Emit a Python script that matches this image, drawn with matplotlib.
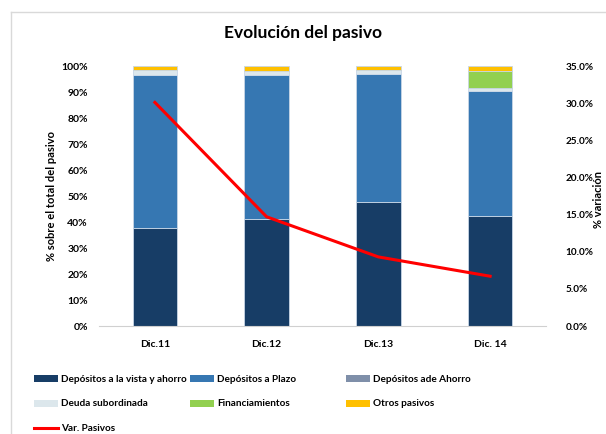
import matplotlib
matplotlib.use("Agg")
import matplotlib.pyplot as plt
from matplotlib.ticker import PercentFormatter, FuncFormatter
from matplotlib.lines import Line2D
from matplotlib.patches import Patch

plt.rcParams['font.family'] = ['Lato', 'DejaVu Sans']
plt.rcParams['font.weight'] = 'bold'

# datos (% sobre total del pasivo)
periodos = ['Dic.11', 'Dic.12', 'Dic.13', 'Dic. 14']
vista_ahorro = [37.8, 41.3, 47.8, 42.4]
plazo = [58.7, 55.3, 49.3, 47.8]
dep_ahorro = [0.0, 0.0, 0.0, 0.0]
deuda_sub = [2.0, 1.5, 1.5, 1.5]
financiamientos = [0.0, 0.0, 0.0, 6.4]
otros = [1.5, 1.9, 1.4, 1.9]
var_pasivos = [30.1, 14.7, 9.3, 6.7]

series = [
    ('Depósitos a la vista y ahorro', vista_ahorro, '#173d66'),
    ('Depósitos a Plazo', plazo, '#3677b2'),
    ('Depósitos ade Ahorro', dep_ahorro, '#7f8fa9'),
    ('Deuda subordinada', deuda_sub, '#dce7ec'),
    ('Financiamientos', financiamientos, '#92d050'),
    ('Otros pasivos', otros, '#ffc000'),
]

fig = plt.figure(figsize=(6.06, 4.34), dpi=100)
ax = fig.add_axes([99 / 606, 1 - 326 / 434, 447 / 606, 260 / 434])

x = range(len(periodos))
bottom = [0.0] * len(periodos)
for name, vals, color in series:
    ax.bar(x, vals, bottom=bottom, width=0.4, color=color,
           edgecolor='#c8d6e6', linewidth=0.6)
    bottom = [b + v for b, v in zip(bottom, vals)]

ax.set_ylim(0, 100)
ax.set_xlim(-0.5, len(periodos) - 0.5)
ax.set_yticks(range(0, 101, 10))
ax.yaxis.set_major_formatter(PercentFormatter(decimals=0))
ax.set_xticks(list(x))
ax.set_xticklabels(periodos)
ax.tick_params(length=0, labelsize=7.5, pad=8)
ax.tick_params(axis='x', pad=10)
for s in ['top', 'right', 'left']:
    ax.spines[s].set_visible(False)
ax.spines['bottom'].set_color('#d0d0d0')
ax.set_ylabel('% sobre el total del pasivo', fontsize=8, fontweight='bold', labelpad=3)

ax2 = ax.twinx()
ax2.plot(list(x), var_pasivos, color='#ff0000', linewidth=2.2)
ax2.set_ylim(0, 35)
ax2.set_yticks([i * 5 for i in range(8)])
ax2.yaxis.set_major_formatter(FuncFormatter(lambda v, p: f'{v:.1f}%'))
ax2.tick_params(length=0, labelsize=7.2, pad=14)
for s in ['top', 'right', 'left', 'bottom']:
    ax2.spines[s].set_visible(False)
fig.text(598 / 606, 1 - 200 / 434, '% variación', rotation=90, ha='center', va='center',
         fontsize=8, fontweight='bold')

fig.text(0.5, 1 - 33 / 434, 'Evolución del pasivo', ha='center', va='center',
         fontsize=12.5, fontweight='bold')

# marco exterior
fig.add_artist(Line2D([11 / 606, 1], [1 - 12 / 434] * 2, color='#d9d9d9', lw=1))
fig.add_artist(Line2D([11 / 606] * 2, [0, 1 - 12 / 434], color='#d9d9d9', lw=1))

# leyenda en tres columnas
def h(i):
    return Patch(facecolor=series[i][2], edgecolor='none')

line_h = Line2D([], [], color='#ff0000', lw=2.2)
cols = [
    ([h(0), h(3), line_h], [series[0][0], series[3][0], 'Var. Pasivos'], 34),
    ([h(1), h(4)], [series[1][0], series[4][0]], 190),
    ([h(2), h(5)], [series[2][0], series[5][0]], 346),
]
for handles, labels, xpx in cols:
    fig.legend(handles, labels, loc='upper left',
               bbox_to_anchor=(xpx / 606, 1 - 375 / 434),
               frameon=False, fontsize=7.2, handlelength=2.4, handleheight=0.7,
               handletextpad=0.3, labelspacing=1.55, borderaxespad=0, borderpad=0)

fig.savefig('out.png', dpi=100)
